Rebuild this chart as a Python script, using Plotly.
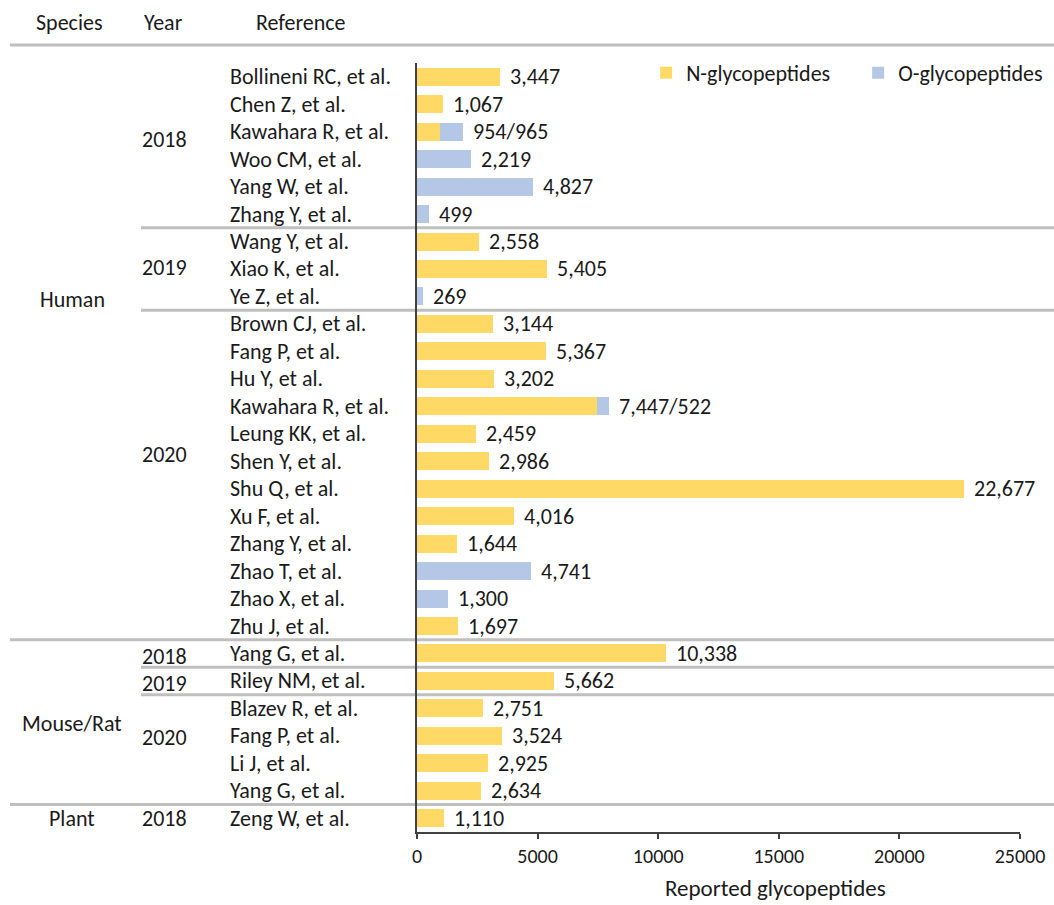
import plotly.graph_objects as go

# ---------------- data ----------------
species = ["Human"] * 21 + ["Mouse/Rat"] * 6 + ["Plant"]
years = (["2018"] * 6 + ["2019"] * 3 + ["2020"] * 12 +
         ["2018", "2019", "2020", "2020", "2020", "2020", "2018"])
references = [
    "Bollineni RC, et al.", "Chen Z, et al.", "Kawahara R, et al.", "Woo CM, et al.",
    "Yang W, et al.", "Zhang Y, et al.",
    "Wang Y, et al.", "Xiao K, et al.", "Ye Z, et al.",
    "Brown CJ, et al.", "Fang P, et al.", "Hu Y, et al.", "Kawahara R, et al.",
    "Leung KK, et al.", "Shen Y, et al.", "Shu Q, et al.", "Xu F, et al.",
    "Zhang Y, et al.", "Zhao T, et al.", "Zhao X, et al.", "Zhu J, et al.",
    "Yang G, et al.", "Riley NM, et al.", "Blazev R, et al.", "Fang P, et al.",
    "Li J, et al.", "Yang G, et al.",
    "Zeng W, et al.",
]
n_glyco = [3447, 1067, 954, 0, 0, 0,
           2558, 5405, 0,
           3144, 5367, 3202, 7447, 2459, 2986, 22677, 4016, 1644, 0, 0, 1697,
           10338, 5662, 2751, 3524, 2925, 2634,
           1110]
o_glyco = [0, 0, 965, 2219, 4827, 499,
           0, 0, 269,
           0, 0, 0, 522, 0, 0, 0, 0, 0, 4741, 1300, 0,
           0, 0, 0, 0, 0, 0,
           0]
x_ticks = [0, 5000, 10000, 15000, 20000, 25000]

# group labels: (text, row position)
species_labels = [("Human", 8.1), ("Mouse/Rat", 23.54), ("Plant", 27)]
year_labels = [("2018", 2.27), ("2019", 6.93), ("2020", 13.75),
               ("2018", 21.1), ("2019", 22.08), ("2020", 24.05), ("2018", 27)]

# ---------------- style ----------------
FONT = "Carlito, Calibri, Lato, sans-serif"
FS = 22
TXT = "#1a1a1a"
YEL = "#FFD966"
BLU = "#B4C7E7"
SEP = "#BFBFBF"
AX = "#404040"

rows = list(range(len(references)))

fig = go.Figure()
fig.add_trace(go.Bar(y=rows, x=n_glyco, orientation="h", name="N-glycopeptides",
                     marker=dict(color=YEL, line=dict(width=0)), hoverinfo="x"))
fig.add_trace(go.Bar(y=rows, x=o_glyco, orientation="h", name="O-glycopeptides",
                     marker=dict(color=BLU, line=dict(width=0)), hoverinfo="x"))

annotations = []
# value labels
for r, n, o in zip(rows, n_glyco, o_glyco):
    txt = f"{n:,}/{o:,}" if (n > 0 and o > 0) else f"{n + o:,}"
    annotations.append(dict(x=n + o, y=r, xref="x", yref="y", text=txt, showarrow=False,
                            xanchor="left", yanchor="middle", xshift=8,
                            font=dict(family=FONT, size=FS, color=TXT)))
# reference names
for r, ref in zip(rows, references):
    annotations.append(dict(x=-0.3134, y=r, xref="paper", yref="y", text=ref, showarrow=False,
                            xanchor="left", yanchor="middle",
                            font=dict(family=FONT, size=FS, color=TXT)))
for t, yy in species_labels:
    annotations.append(dict(x=-0.572, y=yy, xref="paper", yref="y", text=t, showarrow=False,
                            xanchor="center", yanchor="middle",
                            font=dict(family=FONT, size=FS, color=TXT)))
for t, yy in year_labels:
    annotations.append(dict(x=-0.418, y=yy, xref="paper", yref="y", text=t, showarrow=False,
                            xanchor="center", yanchor="middle",
                            font=dict(family=FONT, size=FS, color=TXT)))
# headers
for t, xx in [("Species", -0.5755), ("Year", -0.421), ("Reference", -0.1924)]:
    annotations.append(dict(x=xx, y=1.0533, xref="paper", yref="paper", text=t, showarrow=False,
                            xanchor="center", yanchor="middle",
                            font=dict(family=FONT, size=FS, color=TXT)))
# axis title
annotations.append(dict(x=0.594, y=-0.0728, xref="paper", yref="paper",
                        text="Reported glycopeptides", showarrow=False,
                        xanchor="center", yanchor="middle",
                        font=dict(family=FONT, size=FS + 1, color=TXT)))

shapes = []
# header line
shapes.append(dict(type="line", xref="paper", yref="paper", x0=-0.675, x1=1.06,
                   y0=1.0234, y1=1.0234, line=dict(color=SEP, width=3)))
# species separators
for yy in [20.5, 26.5]:
    shapes.append(dict(type="line", xref="paper", yref="y", x0=-0.675, x1=1.06,
                       y0=yy, y1=yy, line=dict(color=SEP, width=3), layer="below"))
# year separators
for yy in [5.5, 8.5, 21.5, 22.5]:
    shapes.append(dict(type="line", xref="paper", yref="y", x0=-0.4577, x1=1.06,
                       y0=yy, y1=yy, line=dict(color=SEP, width=3), layer="below"))

fig.update_layout(
    width=1054, height=905,
    margin=dict(l=417, r=34, t=63, b=73, autoexpand=False),
    paper_bgcolor="white", plot_bgcolor="white",
    barmode="stack", bargap=0.345,
    font=dict(family=FONT, size=FS, color=TXT),
    showlegend=True,
    legend=dict(orientation="h", x=0.38, xanchor="left", y=0.987, yanchor="middle",
                traceorder="normal",
                font=dict(family=FONT, size=FS, color=TXT), bgcolor="rgba(0,0,0,0)",
                entrywidth=167, itemclick=False),
    xaxis=dict(range=[0, 25000], tickvals=x_ticks, ticktext=[str(v) for v in x_ticks],
               showline=True, linecolor=AX, linewidth=1.5, ticks="outside", ticklen=5,
               tickwidth=1.5, tickcolor=AX, showgrid=False, zeroline=False,
               tickfont=dict(family=FONT, size=20, color=TXT)),
    yaxis=dict(range=[27.5, -0.5], showline=True, linecolor=AX, linewidth=2,
               showticklabels=False, ticks="", showgrid=False, zeroline=False),
    annotations=annotations, shapes=shapes,
)

fig.write_html("out.html", config={"displayModeBar": False},
               post_script="document.body.style.margin='0';")
